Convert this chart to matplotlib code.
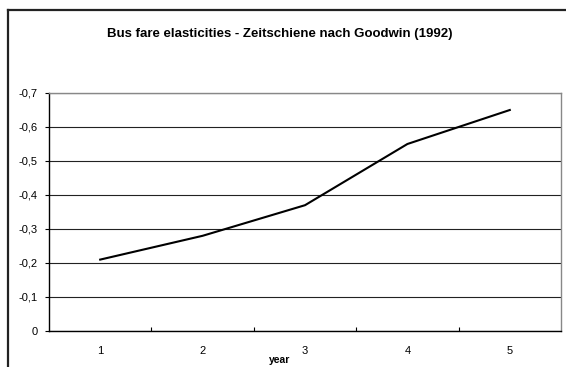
import matplotlib
matplotlib.use("Agg")
import matplotlib.pyplot as plt
from matplotlib.lines import Line2D

plt.rcParams['font.family'] = ['Liberation Sans', 'DejaVu Sans']

# data
years = [1, 2, 3, 4, 5]
elasticity = [-0.21, -0.28, -0.37, -0.55, -0.65]
y_ticks = [0, -0.1, -0.2, -0.3, -0.4, -0.5, -0.6, -0.7]

W, H = 566, 367
fig = plt.figure(figsize=(W / 100, H / 100), dpi=100)

# outer chart frame (cut off at right and bottom, like the screenshot)
fx = 7.5 / W
fy = 1 - 9.5 / H
fig.add_artist(Line2D([fx, fx], [-0.05, fy], transform=fig.transFigure,
                      color='#222222', lw=1.6))
fig.add_artist(Line2D([fx, 1.05], [fy, fy], transform=fig.transFigure,
                      color='#222222', lw=1.6))

ax = fig.add_axes([49 / W, (H - 331) / H, 512 / W, 238 / H])

ax.plot(years, elasticity, color='black', lw=1.5, solid_joinstyle='miter')

ax.set_xlim(0.5, 5.5)
ax.set_ylim(0, -0.7)

# horizontal gridlines
ax.set_yticks(y_ticks)
ax.set_yticklabels([('%.1f' % v).replace('.', ',') if v != 0 else '0' for v in y_ticks])
ax.yaxis.grid(True, color='#222222', lw=0.8)
ax.set_axisbelow(True)
ax.tick_params(axis='y', direction='out', length=3, width=0.8, pad=5,
               labelsize=8, colors='black')

# x: ticks on category boundaries, labels centred in categories
ax.set_xticks([1.5, 2.5, 3.5, 4.5])
ax.set_xticklabels([])
ax.set_xticks(years, minor=True)
ax.set_xticklabels([str(y) for y in years], minor=True)
ax.tick_params(axis='x', which='major', direction='in', length=3, width=0.8)
ax.tick_params(axis='x', which='minor', length=0, pad=11, labelsize=8)

for side in ['left', 'bottom']:
    ax.spines[side].set_color('black')
    ax.spines[side].set_linewidth(1.0)
for side in ['top', 'right']:
    ax.spines[side].set_color('#888888')
    ax.spines[side].set_linewidth(1.0)

fig.text(280 / W, 1 - 34 / H, 'Bus fare elasticities - Zeitschiene nach Goodwin (1992)',
         ha='center', va='center', fontsize=9.5, fontweight='bold')
fig.text(280 / W, 1 - 360 / H, 'year', ha='center', va='center',
         fontsize=7.5, fontweight='bold')

fig.savefig('out.png', dpi=100)
